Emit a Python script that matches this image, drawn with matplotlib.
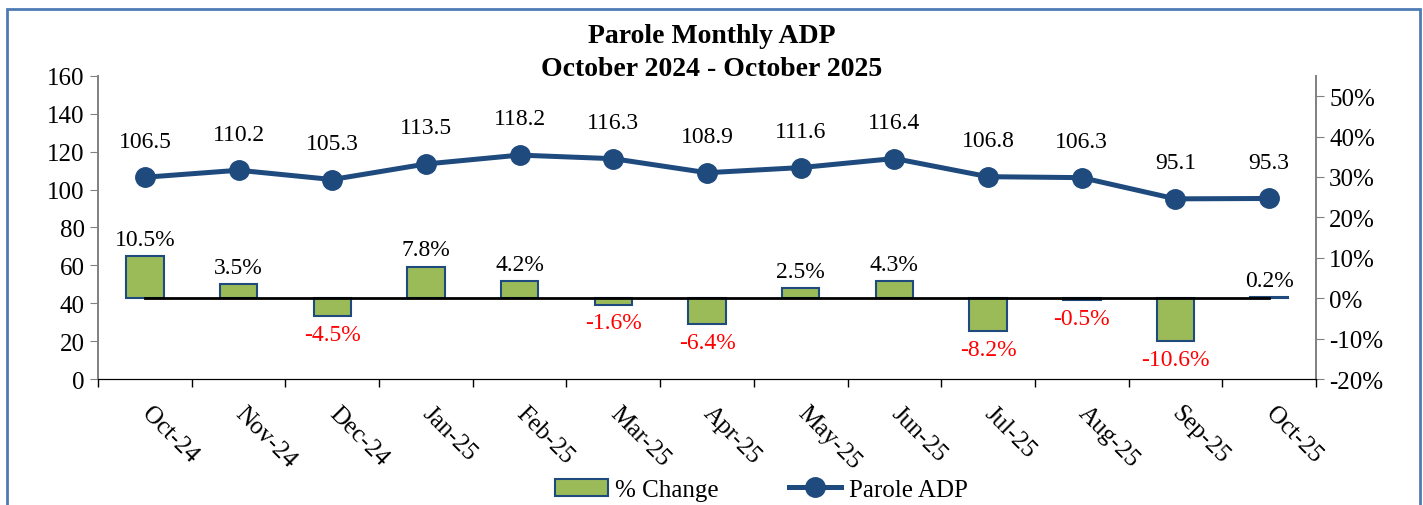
import matplotlib.pyplot as plt
from matplotlib.patches import Rectangle

months = ['Oct-24', 'Nov-24', 'Dec-24', 'Jan-25', 'Feb-25', 'Mar-25', 'Apr-25',
          'May-25', 'Jun-25', 'Jul-25', 'Aug-25', 'Sep-25', 'Oct-25']
adp = [106.5, 110.2, 105.3, 113.5, 118.2, 116.3, 108.9, 111.6, 116.4, 106.8, 106.3, 95.1, 95.3]
pct_change = [10.5, 3.5, -4.5, 7.8, 4.2, -1.6, -6.4, 2.5, 4.3, -8.2, -0.5, -10.6, 0.2]

navy = '#1F4A7E'
green = '#9BBB59'
plt.rcParams['font.family'] = ['Liberation Serif', 'DejaVu Serif']

fig = plt.figure(figsize=(14.23, 5.06), dpi=100)
ax = fig.add_axes([0.0689, 0.249, 0.8559, 0.599])
ax2 = ax.twinx()

x = list(range(len(months)))

# bars on the secondary (percent) axis
ax2.bar(x, pct_change, width=0.4, color=green, edgecolor=navy, linewidth=1.5,
        label='% Change', zorder=2)
ax2.plot([0, len(months) - 1], [0, 0], color='black', lw=2, zorder=3)
for i, v in enumerate(pct_change):
    off = 12 if v >= 0 else -13
    ax2.annotate(f'{v:.1f}%', (i, v), xytext=(0, off), textcoords='offset points',
                 ha='center', va='center', fontsize=17,
                 color='black' if v >= 0 else '#FF0000')

ax2.set_ylim(-20, 55)
ax2.set_yticks(range(-20, 51, 10))
ax2.set_yticklabels([f'{t}%' for t in range(-20, 51, 10)])

# line on the primary axis
ax.set_zorder(ax2.get_zorder() + 1)
ax.patch.set_visible(False)
ax.plot(x, adp, color=navy, lw=3.6, marker='o', markersize=14, label='Parole ADP', zorder=4)
for i, v in enumerate(adp):
    ax.annotate(f'{v:.1f}', (i, v), xytext=(0, 26), textcoords='offset points',
                ha='center', va='center', fontsize=17)

ax.set_ylim(0, 160)
ax.set_yticks(range(0, 161, 20))
ax.set_xlim(-0.5, len(months) - 0.5)
ax.set_xticks(x)
ax.set_xticklabels(months, rotation=-45, ha='left', va='center', rotation_mode='anchor')
ax.set_xticks([i - 0.5 for i in range(len(months) + 1)], minor=True)
ax.tick_params(axis='x', which='major', length=0, pad=22, labelsize=18)
ax.tick_params(axis='x', which='minor', length=6, width=1, color='black')
ax.tick_params(axis='y', labelsize=18, length=6, color='#808080')
ax2.tick_params(axis='y', labelsize=18, length=6, color='#808080')

for a in (ax, ax2):
    a.spines['top'].set_visible(False)
    a.spines['left'].set_color('#808080')
    a.spines['right'].set_color('#808080')
    a.spines['left'].set_linewidth(1.2)
    a.spines['right'].set_linewidth(1.2)
    a.spines['bottom'].set_color('black')

fig.suptitle('Parole Monthly ADP\nOctober 2024 - October 2025', y=0.952, va='top',
             fontsize=20, fontweight='bold', linespacing=1.4)

h1, l1 = ax2.get_legend_handles_labels()
h2, l2 = ax.get_legend_handles_labels()
fig.legend(h1 + h2, l1 + l2, loc='center', bbox_to_anchor=(0.535, 0.03), ncol=2,
           frameon=False, fontsize=18, handlelength=2.1, columnspacing=2.8,
           handletextpad=0.3)

fig.patches.append(Rectangle((0.005, -0.1), 0.993, 1.08, transform=fig.transFigure,
                             fill=False, edgecolor='#4F7BB5', lw=2))

fig.savefig('out.png', dpi=100)
